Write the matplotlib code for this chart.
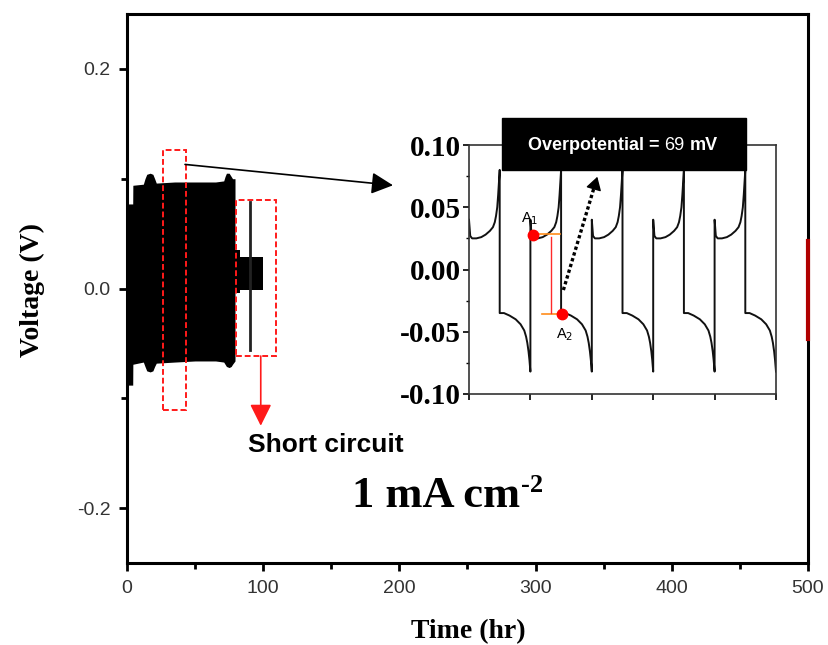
import numpy as np
import matplotlib
matplotlib.use('Agg')
import matplotlib.pyplot as plt
from matplotlib.patches import Rectangle

plt.rcParams['font.family'] = 'Liberation Sans'
plt.rcParams['axes.unicode_minus'] = False

# main plot: envelope of the dense voltage oscillation (hr, V)
env_time = [0.3, 4.2, 4.3, 12.0, 13.2, 14.5, 17.0, 19.0, 20.3, 21.5, 35.0, 50.0, 65.0, 71.0, 72.0, 73.0,
            75.0, 76.5, 77.5, 79.3]
env_upper = [0.077, 0.077, 0.094, 0.095, 0.100, 0.104, 0.105, 0.104, 0.100, 0.096, 0.097, 0.097, 0.097,
             0.098, 0.102, 0.105, 0.105, 0.102, 0.100, 0.100]
env_lower = [-0.088, -0.088, -0.069, -0.067, -0.071, -0.075, -0.076, -0.075, -0.071, -0.068, -0.067,
             -0.066, -0.066, -0.067, -0.069, -0.071, -0.072, -0.071, -0.069, -0.066]

# short circuit part
sc_time = [79.3, 83.0, 83.0, 100.0]
sc_upper = [0.035, 0.035, 0.029, 0.029]
sc_lower = [-0.004, -0.004, -0.001, -0.001]
spike_time = 90.3
spike_volt = [-0.056, 0.079]

# inset: one charge / discharge cycle (phase, V), the 5 cycles look the same
cycle_phase = [0.0, 0.02, 0.05, 0.12, 0.20, 0.27, 0.34, 0.39, 0.42, 0.44, 0.46, 0.475, 0.487, 0.497, 0.50,
               0.50, 0.52, 0.57, 0.66, 0.76, 0.84, 0.90, 0.93, 0.95, 0.97, 0.985, 1.0]
cycle_volt = [0.040, 0.027, 0.025, 0.025, 0.026, 0.028, 0.031, 0.034, 0.038, 0.043, 0.050, 0.060, 0.070, 0.078, 0.080,
              -0.035, -0.035, -0.035, -0.037, -0.040, -0.044, -0.049, -0.054, -0.059, -0.066, -0.073, -0.082]
n_cycles = 5

A1 = (1.047, 0.0277)
A2 = (1.510, -0.0360)

fig = plt.figure(figsize=(8.29, 6.45), dpi=100)
W, H = 829, 645
ax = fig.add_axes([127 / W, 1 - 563 / H, 681 / W, 549 / H])

ax.fill_between(env_time, env_lower, env_upper, color='black', lw=0)
ax.fill_between(sc_time, sc_lower, sc_upper, color='black', lw=0)
ax.plot([spike_time, spike_time], spike_volt, color='#222222', lw=2)
ax.plot([500, 500], [-0.046, 0.043], color='#b00000', lw=3, clip_on=False, zorder=5)

# red dashed boxes
ax.add_patch(Rectangle((26.4, -0.111), 17.1, 0.237, fill=False, ec='#ff1a1a', lw=1.4, ls=(0, (3, 1.5))))
ax.add_patch(Rectangle((80.3, -0.0615), 29.1, 0.142, fill=False, ec='#ff1a1a', lw=1.4, ls=(0, (3, 1.5))))

ax.annotate('', xy=(195.3, 0.094), xytext=(42.6, 0.113),
            arrowprops=dict(arrowstyle='-|>,head_length=0.6,head_width=0.3', color='black', lw=1.2,
                            mutation_scale=22, shrinkA=0, shrinkB=0))
ax.annotate('', xy=(98.2, -0.125), xytext=(98.2, -0.0615),
            arrowprops=dict(arrowstyle='-|>,head_length=0.6,head_width=0.3', color='#ff1a1a', lw=1.2,
                            mutation_scale=22, shrinkA=0, shrinkB=0))
ax.text(88.8, -0.149, 'Short circuit', fontsize=19, fontweight='bold', va='baseline', ha='left')
t_cur = ax.text(165.2, -0.199, '1 mA cm', fontsize=32, fontweight='bold', family='Liberation Serif',
                va='baseline', ha='left')

ax.set_xlim(0, 500)
ax.set_ylim(-0.25, 0.25)
ax.set_xticks(range(0, 501, 100))
ax.set_xticks(range(50, 500, 100), minor=True)
ax.set_yticks([-0.2, 0.0, 0.2])
ax.set_yticklabels(['-0.2', '0.0', '0.2'])
ax.set_yticks([-0.1, 0.1], minor=True)
for s in ax.spines.values():
    s.set_linewidth(2.2)
ax.tick_params(which='major', direction='out', length=6, width=2, labelsize=14, labelcolor='#333333', pad=6)
ax.tick_params(which='minor', direction='out', length=4, width=2)

ax.set_xlabel('Time (hr)', fontsize=20, fontweight='bold', family='Liberation Serif')
ax.xaxis.set_label_coords((468 - 127) / 681, (563 - 632) / 549)
ax.xaxis.label.set_va('center')
ax.set_ylabel('Voltage (V)', fontsize=20, fontweight='bold', family='Liberation Serif')
ax.yaxis.set_label_coords((32 - 127) / 681, (563 - 290) / 549)
ax.yaxis.label.set_va('center')

# inset
axi = fig.add_axes([469 / W, 1 - 394 / H, 307 / W, 249 / H])
t_in = np.concatenate([np.array(cycle_phase) + k for k in range(n_cycles)])
v_in = np.concatenate([cycle_volt] * n_cycles)
axi.plot(t_in, v_in, color='#111111', lw=1.4)
axi.plot(*A1, 'o', color='red', ms=7.5, zorder=5, clip_on=False)
axi.plot(*A2, 'o', color='red', ms=7.5, zorder=5, clip_on=False)
axi.plot([1.102, 1.482], [0.0283, 0.0283], color='#ff8c1a', lw=1.2)
axi.plot([1.185, 1.510], [-0.0357, -0.0357], color='#ff8c1a', lw=1.2)
axi.plot([1.330, 1.330], [0.0262, -0.0353], color='#ff2a2a', lw=1.0)
axi.text(0.99, 0.0406, 'A$_1$', fontsize=10.5, ha='center', va='center')
axi.text(1.56, -0.0526, 'A$_2$', fontsize=10.5, ha='center', va='center')
axi.plot([1.537, 2.05], [-0.0165, 0.0680], color='black', lw=2.4, ls=(0, (1, 0.8)))
axi.annotate('', xy=(2.09, 0.0745), xytext=(2.03, 0.0645),
             arrowprops=dict(arrowstyle='-|>,head_length=0.5,head_width=0.3', color='black', lw=1,
                             mutation_scale=16, shrinkA=0, shrinkB=0))
axi.set_xlim(0, 5)
axi.set_ylim(-0.10, 0.10)
axi.set_xticks(range(0, 6))
axi.set_xticklabels([])
axi.set_yticks([-0.10, -0.05, 0.0, 0.05, 0.10])
axi.set_yticklabels(['-0.10', '-0.05', '0.00', '0.05', '0.10'], fontsize=21, fontweight='bold',
                    family='Liberation Serif')
axi.set_yticks([-0.075, -0.025, 0.025, 0.075], minor=True)
for s in axi.spines.values():
    s.set_linewidth(1.2)
    s.set_color('#333333')
axi.tick_params(which='major', direction='out', length=4, width=1.2, pad=1.5)
axi.tick_params(which='minor', direction='out', length=2.5, width=1.0)

# black label box
fig.add_artist(Rectangle((502 / W, 1 - 170 / H), 244 / W, 52 / H, transform=fig.transFigure,
                         color='black', zorder=20))

fig.canvas.draw()
r = fig.canvas.get_renderer()

# superscript of the current density
bb = t_cur.get_window_extent(r)
base_px = ax.transData.transform((165.2, -0.199))[1]
fig.text((bb.x1 + 1) / W, (base_px + 15) / H, '-2', fontsize=19, fontweight='bold',
         family='Liberation Serif', va='baseline', ha='left')

# overpotential label: bold / regular / bold pieces
pieces = [('Overpotential =', 'bold'), ('69', 'normal'), ('mV', 'bold')]
gap = 5
objs = []
for s, wt in pieces:
    objs.append(fig.text(0, 0, s, fontsize=13, fontweight=wt, color='white', va='baseline', ha='left', zorder=21))
widths = [o.get_window_extent(r).width for o in objs]
x = 622.5 - (sum(widths) + gap * (len(pieces) - 1)) / 2
yb = H - 150.5
for o, w in zip(objs, widths):
    o.set_position((x / W, yb / H))
    x += w + gap

fig.savefig('out.png', dpi=100)
